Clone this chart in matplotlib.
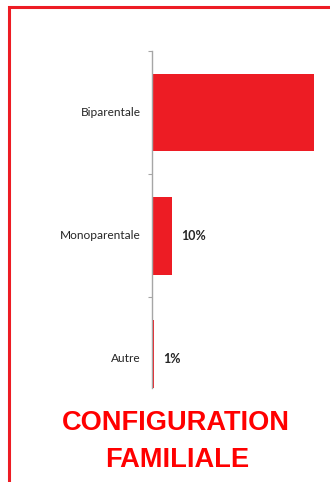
import matplotlib
matplotlib.use("Agg")
import matplotlib.pyplot as plt
from matplotlib.patches import Rectangle

categories = ["Biparentale", "Monoparentale", "Autre"]
values = [80, 10, 1]
shown = [None, "10%", "1%"]   # the first label falls outside the frame

RED = "#ED1C24"
W, H = 330, 482

fig = plt.figure(figsize=(W / 100, H / 100), dpi=100)
fig.patch.set_facecolor("white")

# red frame, open on the right and bottom (runs off the page)
fig.patches.append(Rectangle((8.5 / W, -0.1), 1.2, (H - 7) / H + 0.1,
                             transform=fig.transFigure, fill=False,
                             edgecolor=RED, linewidth=2.2))

ax = fig.add_axes([152 / W, 94 / H, 178 / W, 337 / H])
ypos = list(range(len(categories)))
ax.barh(ypos, values, height=0.63, color=RED, zorder=2)
ax.set_xlim(0, 87.7)
ax.set_ylim(2.236, -0.5)

for y, v, s in zip(ypos, values, shown):
    if s:
        ax.annotate(s, (v, y), xytext=(6.5, 0), textcoords="offset points",
                    va="center", ha="left", fontsize=9, fontweight="bold",
                    family="Lato", color="#262626")

for side in ("top", "right", "bottom"):
    ax.spines[side].set_visible(False)
ax.spines["left"].set_color("#A6A6A6")
ax.spines["left"].set_linewidth(1.0)
ax.set_xticks([])
ax.set_yticks([-0.5, 0.5, 1.5])
ax.set_yticklabels([])
ax.tick_params(axis="y", length=3, width=0.8, color="#A6A6A6")
for y, c in zip(ypos, categories):
    ax.text(-0.065, y, c, transform=ax.get_yaxis_transform(), ha="right",
            va="center", fontsize=8.6, family="Lato", color="#262626")

fig.text(176 / W, 1 - 430 / H, "CONFIGURATION", ha="center", va="baseline",
         fontsize=19.6, fontweight="bold", family="Liberation Sans", color="#FF0000")
fig.text(177 / W, 1 - 467 / H, "FAMILIALE", ha="center", va="baseline",
         fontsize=19.6, fontweight="bold", family="Liberation Sans", color="#FF0000")

fig.savefig("out.png", dpi=100)
